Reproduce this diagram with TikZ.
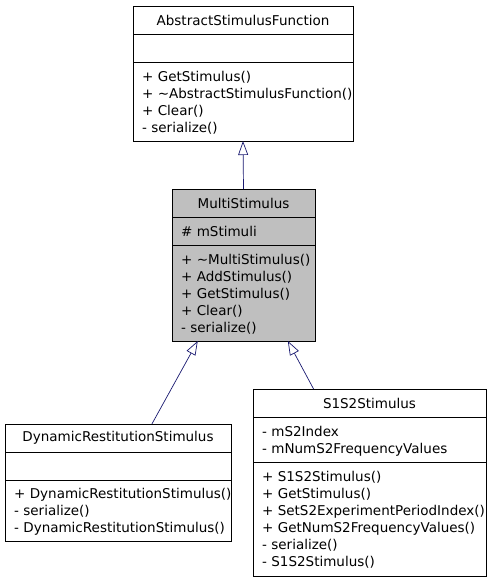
\documentclass[tikz,border=0pt]{standalone}
\usepackage{fontspec}
\usetikzlibrary{arrows.meta,positioning,calc}
\newfontfamily\umlfont{DejaVu Sans}
\definecolor{edgeblue}{RGB}{25,25,112}
\definecolor{classgray}{RGB}{191,191,191}
\tikzstyle{inherit edge} = [draw=edgeblue, line width=0.7pt, -{Triangle[length=14pt,width=10pt,fill=white]}]
\newcommand{\members}[1]{\raisebox{-2pt}[\height][\depth]{\begin{tabular}{@{}l@{}}#1\end{tabular}}}

\begin{document}
\begin{tikzpicture}
[x=1pt,y=-1pt,
classTitle/.style={shape=rectangle, draw, line width=0.8pt, outer sep=0pt, anchor=north west, minimum height=28pt, inner sep=0pt, font=\umlfont\fontsize{13.5}{17}\selectfont},
classPart/.style={shape=rectangle, draw, line width=0.8pt, outer sep=0pt, anchor=north, inner xsep=9pt, inner ysep=0pt, align=left, font=\umlfont\fontsize{13.5}{17}\selectfont}]

\useasboundingbox (0,0) rectangle (491,581);

%% class titles
\foreach \nodename/\x/\y/\w/\fillc/\title in {
abs/133/6/220/white/AbstractStimulusFunction, multi/172/189/143/classgray/MultiStimulus, dyn/5/424/226/white/DynamicRestitutionStimulus, sone/253/389/233/white/S1S2Stimulus}
{
\node (\nodename) at (\x,\y) [classTitle, fill=\fillc, minimum width=\w pt] {\title};
}

%% attributes and operations
\node (absAttr) [classPart, below=0pt of abs, text width=202pt, minimum height=28pt] {};
\node (absOps) [classPart, below=0pt of absAttr, text width=202pt, minimum height=79pt]
{\members{+ GetStimulus()\\+ \textasciitilde AbstractStimulusFunction()\\+ Clear()\\- serialize()}};

\node (multiAttr) [classPart, fill=classgray, below=0pt of multi, text width=125pt, minimum height=28pt] {\members{\# mStimuli}};
\node (multiOps) [classPart, fill=classgray, below=0pt of multiAttr, text width=125pt, minimum height=96pt]
{\members{+ \textasciitilde MultiStimulus()\\+ AddStimulus()\\+ GetStimulus()\\+ Clear()\\- serialize()}};

\node (dynAttr) [classPart, below=0pt of dyn, text width=208pt, minimum height=28pt] {};
\node (dynOps) [classPart, below=0pt of dynAttr, text width=208pt, minimum height=61pt]
{\members{+ DynamicRestitutionStimulus()\\- serialize()\\- DynamicRestitutionStimulus()}};

\node (soneAttr) [classPart, below=0pt of sone, text width=215pt, minimum height=45pt] {\members{- mS2Index\\- mNumS2FrequencyValues}};
\node (soneOps) [classPart, below=0pt of soneAttr, text width=215pt, minimum height=114pt]
{\members{+ S1S2Stimulus()\\+ GetStimulus()\\+ SetS2ExperimentPeriodIndex()\\+ GetNumS2FrequencyValues()\\- serialize()\\- S1S2Stimulus()}};

%% edges
\path (multi.north) edge[inherit edge] (absOps.south);
\path ($(dyn.north west)!0.65!(dyn.north east)$) edge[inherit edge] ($(multiOps.south west)!0.18!(multiOps.south east)$);
\path ($(sone.north west)!0.26!(sone.north east)$) edge[inherit edge] ($(multiOps.south west)!0.81!(multiOps.south east)$);

\end{tikzpicture}
\end{document}
